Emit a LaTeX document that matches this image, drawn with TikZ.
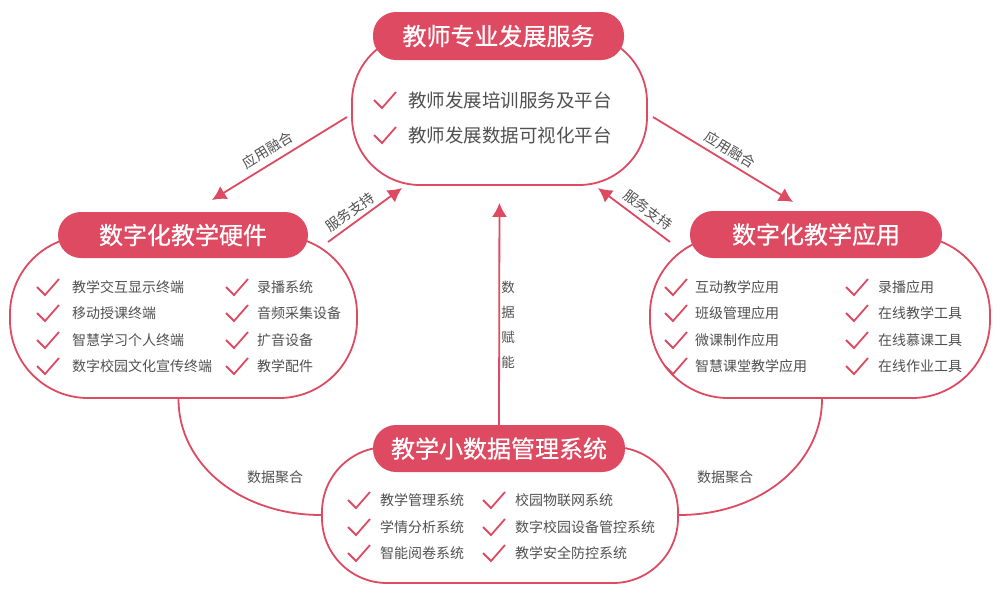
\documentclass[tikz,border=0pt]{standalone}
\usepackage{fontspec}
\setmainfont{Noto Sans CJK SC}
\newfontfamily\headfont[FakeBold=0.6]{Noto Sans CJK SC}
\usetikzlibrary{arrows.meta}
\definecolor{brand}{HTML}{DD4A61}
\definecolor{txt}{HTML}{505050}
\tikzset{
  body/.style={draw=brand, line width=1.8pt, rounded corners=#1, inner sep=0pt},
  head/.style={fill=brand, rounded corners=23pt, text=white, inner sep=0pt,
    font=\headfont\fontsize{24}{28}\selectfont},
  item/.style={anchor=west, text=txt, inner sep=0pt, font=\fontsize{14}{16}\selectfont},
  bigitem/.style={anchor=west, text=txt, inner sep=0pt, font=\fontsize{18.5}{20}\selectfont},
  lbl/.style={text=txt, inner sep=0pt, font=\fontsize{14}{16}\selectfont},
  conn/.style={draw=brand, line width=1.8pt},
  arr/.style={conn, -{Latex[length=14pt,width=15pt]}},
  chk/.pic={\draw[brand, line width=1.8pt, line join=miter] (-11,0) -- (-3,8) -- (11,-8);},
}
\begin{document}
\begin{tikzpicture}[x=1pt,y=-1pt]
\useasboundingbox (0,0) rectangle (1000,598);

% bodies
\node[body=68pt, minimum width=295pt, minimum height=151pt] (tbody) at (499.5,109.5) {};
\node[body=78pt, minimum width=347pt, minimum height=162pt] (lbody) at (183.5,317) {};
\node[body=78pt, minimum width=340pt, minimum height=162pt] (rbody) at (820,317) {};
\node[body=65pt, minimum width=356pt, minimum height=136pt] (bbody) at (500,515) {};

% headers
\node[head, minimum width=251pt, minimum height=48pt] (thead) at (498.5,36) {教师专业发展服务};
\node[head, minimum width=250pt, minimum height=46pt] (lhead) at (183,235) {数字化教学硬件};
\node[head, minimum width=252pt, minimum height=47pt] (rhead) at (816,234.5) {数字化教学应用};
\node[head, minimum width=252pt, minimum height=47pt] (bhead) at (499,448.5) {教学小数据管理系统};

% top items
\pic at (385,100) {chk};
\node[bigitem] (t1) at (408,100) {教师发展培训服务及平台};
\pic at (385,135) {chk};
\node[bigitem] (t2) at (408,135) {教师发展数据可视化平台};

% left items
\foreach \y/\a/\b [count=\i] in {287/教学交互显示终端/录播系统, 313/移动授课终端/音频采集设备, 340/智慧学习个人终端/扩音设备, 366/数字校园文化宣传终端/教学配件}{
  \pic at (48,\y) {chk};
  \node[item] (la\i) at (72,\y) {\a};
  \pic at (237,\y) {chk};
  \node[item] (lb\i) at (257,\y) {\b};
}

% right items
\foreach \y/\a/\b [count=\i] in {287/互动教学应用/录播应用, 313/班级管理应用/在线教学工具, 340/微课制作应用/在线慕课工具, 366/智慧课堂教学应用/在线作业工具}{
  \pic at (676,\y) {chk};
  \node[item] (ra\i) at (695,\y) {\a};
  \pic at (857,\y) {chk};
  \node[item] (rb\i) at (878,\y) {\b};
}

% bottom items
\foreach \y/\a/\b [count=\i] in {500/教学管理系统/校园物联网系统, 527/学情分析系统/数字校园设备管控系统, 553/智能阅卷系统/教学安全防控系统}{
  \pic at (359,\y) {chk};
  \node[item] (ba\i) at (380,\y) {\a};
  \pic at (494,\y) {chk};
  \node[item] (bb\i) at (515,\y) {\b};
}

% connector end points
\coordinate (a1s) at (347,117);
\coordinate (a1e) at (212,200);
\coordinate (a2s) at (328,242);
\coordinate (a2e) at (402,188);
\coordinate (a3s) at (653,117);
\coordinate (a3e) at (793,202);
\coordinate (a4s) at (670,242);
\coordinate (a4e) at (598,188);

\draw[arr] (a1s) -- (a1e);
\draw[arr] (a2s) -- (a2e);
\draw[arr] (a3s) -- (a3e);
\draw[arr] (a4s) -- (a4e);
\draw[arr, shorten >=17pt] (bhead.north) -- (tbody.south);

\draw[conn] ([xshift=-5pt]lbody.south) .. controls +(0,66) and +(-80,0) .. (bbody.west);
\draw[conn] ([xshift=2pt]rbody.south) .. controls +(0,66) and +(80,0) .. (bbody.east);

% labels
\node[lbl, rotate=31.6] (l1) at (268,150) {应用融合};
\node[lbl, rotate=36] (l2) at (350,212) {服务支持};
\node[lbl, rotate=-31.4] (l3) at (730,150) {应用融合};
\node[lbl, rotate=-36.5] (l4) at (648,210) {服务支持};
\node[lbl, align=center, font=\fontsize{13.5}{25}\selectfont] (l5) at (508,324.5) {数\\据\\赋\\能};
\node[lbl] (l6) at (275,477) {数据聚合};
\node[lbl] (l7) at (725,477) {数据聚合};
\end{tikzpicture}
\end{document}
